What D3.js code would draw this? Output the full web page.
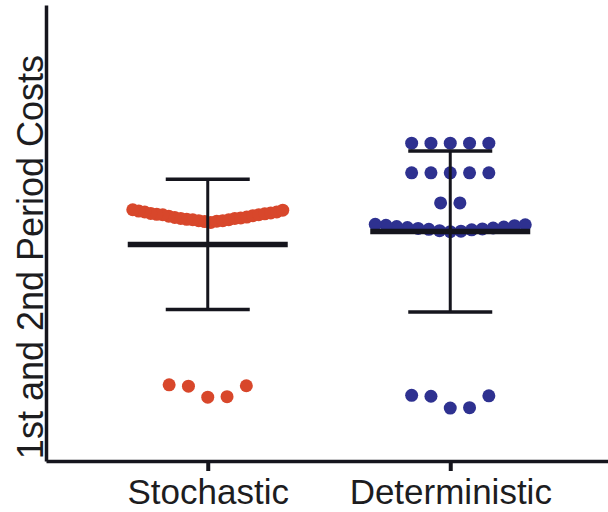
<!DOCTYPE html>
<html>
<head>
<meta charset="utf-8">
<script src="https://cdn.jsdelivr.net/npm/d3@7"></script>
<style>
  html, body { margin: 0; padding: 0; background: #fff; }
  svg { display: block; }
</style>
</head>
<body>
<svg id="chart" width="608" height="512"></svg>
<script>
// Groups and the individual run costs for each planning approach
const categories = ["Stochastic", "Deterministic"];
const stochasticCosts = [
  52.5, 52.3, 52.6, 52.7, 52.9, 52.7, 53.0, 52.9, 53.2, 53.3, 53.2, 53.4, 53.7,
  53.5, 53.8, 54.0, 54.0, 54.2, 54.3, 54.1, 54.4, 54.6, 54.6, 54.8, 55.0, 55.1,
  16.7, 16.5, 16.4, 14.1, 14.0
];
const deterministicCosts = [
  69.7, 69.7, 69.7, 69.7, 69.7,
  63.2, 63.2, 63.2, 63.2, 63.2,
  56.6, 56.6,
  50.3, 50.4, 50.5, 50.7, 50.8, 50.9, 51.0, 51.1, 51.2, 51.3, 51.4, 51.6, 51.7, 51.8, 51.9,
  14.4, 14.3, 14.2, 11.7, 11.6
];
const seriesValues = [stochasticCosts, deterministicCosts];
const seriesColors = ["#d8472b", "#2e3190"];
const yAxisTitle = "1st and 2nd Period Costs";

const width = 608, height = 512;
const svg = d3.select("#chart");
const ink = "#15151d";
const font = "'Liberation Sans', Arial, Helvetica, sans-serif";

const x = d3.scalePoint().domain(categories).range([46, 612]).padding(0.667);
const y = d3.scaleLinear().domain([0, 100]).range([461, 5]);

// Scatter layout: values close in height share a row; within a row the
// lowest value sits in the middle and the rest alternate outwards.
const dotR = 6.5, rowGap = 18, prefStep = 19.3, maxRowWidth = 150;
function swarm(values, cx) {
  const sorted = values.slice().sort((a, b) => a - b);
  const rows = [];
  let cur = null;
  for (const v of sorted) {
    if (!cur || y(cur[0]) - y(v) > rowGap) { cur = [v]; rows.push(cur); }
    else cur.push(v);
  }
  const pts = [];
  rows.forEach(row => {
    const n = row.length;
    const step = n > 1 ? Math.min(prefStep, maxRowWidth / (n - 1)) : 0;
    row.forEach((v, k) => {
      let slot;
      if (n % 2 === 1) {
        const m = Math.ceil(k / 2);
        slot = k === 0 ? 0 : (k % 2 === 1 ? m : -m);
      } else {
        const m = Math.floor(k / 2) + 0.5;
        slot = k % 2 === 0 ? m : -m;
      }
      pts.push({ v, x: cx + slot * step, y: y(v) });
    });
  });
  return pts;
}

// Points
categories.forEach((cat, i) => {
  svg.append("g")
    .selectAll("circle")
    .data(swarm(seriesValues[i], x(cat)))
    .join("circle")
    .attr("cx", d => d.x)
    .attr("cy", d => d.y)
    .attr("r", dotR)
    .attr("fill", seriesColors[i]);
});

// Mean line with ±1 SD whiskers
categories.forEach((cat, i) => {
  const vals = seriesValues[i];
  const m = d3.mean(vals), sd = d3.deviation(vals);
  const cx = x(cat);
  const g = svg.append("g").attr("stroke", ink).attr("fill", "none");
  g.append("line")
    .attr("x1", cx).attr("x2", cx)
    .attr("y1", y(m + sd)).attr("y2", y(m - sd))
    .attr("stroke-width", 3);
  [m + sd, m - sd].forEach(v => {
    g.append("line")
      .attr("x1", cx - 42).attr("x2", cx + 42)
      .attr("y1", y(v)).attr("y2", y(v))
      .attr("stroke-width", 3.5);
  });
  g.append("line")
    .attr("x1", cx - 80).attr("x2", cx + 80)
    .attr("y1", y(m)).attr("y2", y(m))
    .attr("stroke-width", 5.5);
});

// Axes
const xAxis = svg.append("g")
  .attr("transform", `translate(0,${y.range()[0]})`)
  .call(d3.axisBottom(x).tickSize(10).tickSizeOuter(0).tickPadding(8));
xAxis.select(".domain").attr("stroke", ink).attr("stroke-width", 3.5);
xAxis.selectAll(".tick line").attr("stroke", ink).attr("stroke-width", 4);
xAxis.selectAll(".tick text")
  .attr("fill", "#1d1d1f")
  .style("font-family", font)
  .style("font-size", "35px");

const yAxis = svg.append("g")
  .attr("transform", `translate(46,0)`)
  .call(d3.axisLeft(y).ticks(0).tickSizeOuter(0));
yAxis.select(".domain").attr("stroke", ink).attr("stroke-width", 3.5);

svg.append("text")
  .attr("transform", `translate(43,${(y.range()[0] + y.range()[1]) / 2 + 24}) rotate(-90)`)
  .attr("text-anchor", "middle")
  .attr("fill", "#1d1d1f")
  .style("font-family", font)
  .style("font-size", "36px")
  .text(yAxisTitle);
</script>
</body>
</html>
